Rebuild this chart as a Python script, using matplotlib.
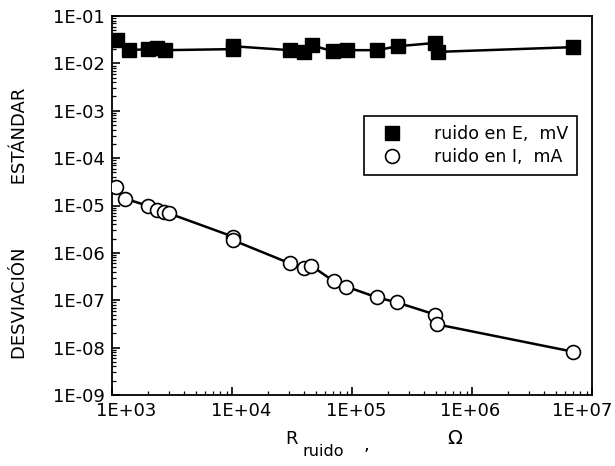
import numpy as np
import matplotlib
matplotlib.use("Agg")
import matplotlib.pyplot as plt
import matplotlib.transforms as mtransforms
from matplotlib.lines import Line2D
from matplotlib.ticker import LogLocator, FixedLocator, FixedFormatter, NullFormatter

# Data
r_E = [1100, 1390, 2000, 2370, 2770, 10200, 10200, 30400, 39800, 46400, 69500, 90900,
       161000, 241000, 492000, 521000, 6.95e6]
sd_E = [0.031, 0.019, 0.020, 0.021, 0.019, 0.020, 0.023, 0.019, 0.0173, 0.024, 0.018, 0.019,
        0.019, 0.023, 0.027, 0.0175, 0.022]

r_I = [1080, 1280, 2000, 2370, 2710, 2990, 10200, 10200, 30400, 39800, 45500, 70800, 89100,
       161000, 237000, 492000, 511000, 6.95e6]
sd_I = [2.5e-5, 1.4e-5, 9.8e-6, 8.2e-6, 7.4e-6, 6.8e-6, 2.2e-6, 1.85e-6, 6.0e-7, 4.8e-7, 5.4e-7,
        2.5e-7, 1.95e-7, 1.15e-7, 9.0e-8, 5.0e-8, 3.1e-8, 8.2e-9]

x_ticks = [1e3, 1e4, 1e5, 1e6, 1e7]
x_labels = ["1E+03", "1E+04", "1E+05", "1E+06", "1E+07"]
y_ticks = [1e-9, 1e-8, 1e-7, 1e-6, 1e-5, 1e-4, 1e-3, 1e-2, 1e-1]
y_labels = ["1E-09", "1E-08", "1E-07", "1E-06", "1E-05", "1E-04", "1E-03", "1E-02", "1E-01"]

legend_E = "ruido en E,  mV"
legend_I = "ruido en I,  mA"
ylabel = "DESVIACIÓN           ESTÁNDAR"

plt.rcParams['font.family'] = ['DejaVu Sans']

W, H = 615, 466
fig = plt.figure(figsize=(W / 100, H / 100), dpi=100)
ax = fig.add_axes([112 / W, 1 - 395 / H, (592 - 112) / W, (395 - 16) / H])

ax.plot(r_E, sd_E, color='black', lw=1.8, marker='s', markersize=10,
        markerfacecolor='black', markeredgecolor='black', zorder=3)
ax.plot(r_I, sd_I, color='black', lw=1.8, marker='o', markersize=10,
        markerfacecolor='white', markeredgecolor='black', markeredgewidth=1.2, zorder=3)

ax.set_xscale('log')
ax.set_yscale('log')
ax.set_xlim(1e3, 1e7)
ax.set_ylim(1e-9, 1e-1)

ax.xaxis.set_major_locator(FixedLocator(x_ticks))
ax.xaxis.set_major_formatter(FixedFormatter(x_labels))
ax.yaxis.set_major_locator(FixedLocator(y_ticks))
ax.yaxis.set_major_formatter(FixedFormatter(y_labels))
ax.xaxis.set_minor_locator(LogLocator(base=10, subs=np.arange(2, 10), numticks=20))
ax.yaxis.set_minor_locator(LogLocator(base=10, subs=np.arange(2, 10), numticks=20))
ax.xaxis.set_minor_formatter(NullFormatter())
ax.yaxis.set_minor_formatter(NullFormatter())

ax.tick_params(which='major', direction='in', length=6, width=1.2, labelsize=13,
               top=False, right=False, pad=5, color='black')
ax.tick_params(which='minor', direction='in', length=3, width=0.9, top=False, right=False)
for s in ax.spines.values():
    s.set_linewidth(1.3)

# shift x tick labels slightly as in the reference
x_offsets_px = [14, 9, 4, -2, -10]
for lab, dx in zip(ax.get_xticklabels(), x_offsets_px):
    lab.set_transform(lab.get_transform() +
                      mtransforms.ScaledTranslation(dx / 100, 0, fig.dpi_scale_trans))

# x label pieces
fig.text(285 / W, 1 - 439 / H, "R", fontsize=13, ha='left', va='center')
fig.text(302 / W, 1 - 451 / H, "ruido", fontsize=11.5, ha='left', va='center')
fig.text(364 / W, 1 - 445 / H, ",", fontsize=13, ha='left', va='center')
fig.text(455 / W, 1 - 439 / H, "Ω", fontsize=14, ha='center', va='center')

# y label
fig.text(20 / W, 1 - 223 / H, ylabel, fontsize=13, rotation=90, ha='center', va='center')

handles = [
    Line2D([], [], ls='none', marker='s', markersize=10, markerfacecolor='black',
           markeredgecolor='black'),
    Line2D([], [], ls='none', marker='o', markersize=10, markerfacecolor='white',
           markeredgecolor='black', markeredgewidth=1.2),
]
leg = ax.legend(handles, [legend_E, legend_I], loc='upper right',
                bbox_to_anchor=(577 / W, 1 - 116 / H), bbox_transform=fig.transFigure,
                borderaxespad=0, fontsize=12.5, frameon=True, fancybox=False,
                edgecolor='black', framealpha=1, handlelength=2.3, handletextpad=1.25,
                borderpad=0.5, labelspacing=0.3)
leg.get_frame().set_linewidth(1.2)

fig.savefig("out.png", dpi=100)
